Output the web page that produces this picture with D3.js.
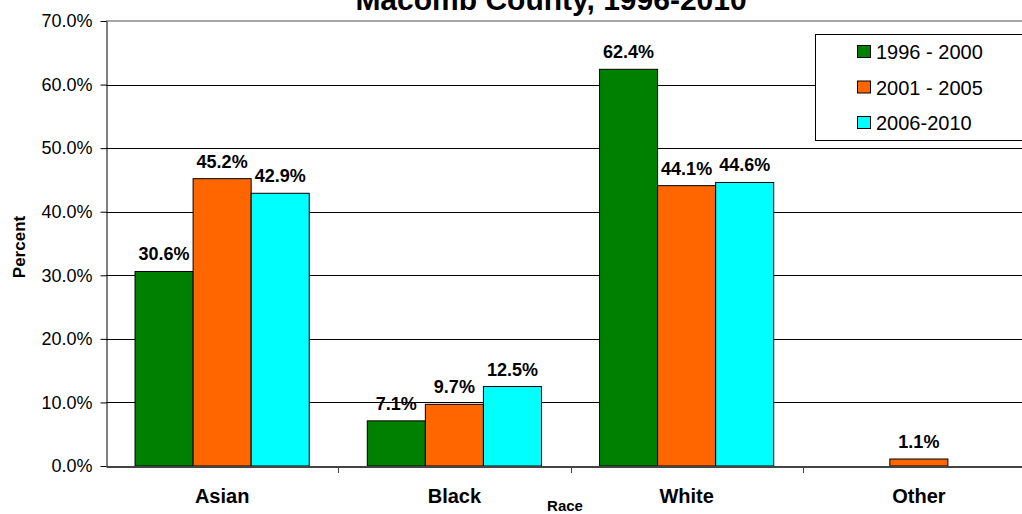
<!DOCTYPE html>
<html>
<head>
<meta charset="utf-8">
<script src="https://cdn.jsdelivr.net/npm/d3@7"></script>
<style>
  html, body { margin: 0; padding: 0; background: #fff; }
  svg { display: block; font-family: Arial, "Liberation Sans", sans-serif; }
</style>
</head>
<body>
<svg id="chart" width="1022" height="514"></svg>
<script>
// Race distribution by period
const categories = ["Asian", "Black", "White", "Other"];
const seriesNames = ["1996 - 2000", "2001 - 2005", "2006-2010"];
const seriesColors = ["#008000", "#FF6600", "#00FFFF"];
const values1996 = [30.6, 7.1, 62.4, null];
const values2001 = [45.2, 9.7, 44.1, 1.1];
const values2006 = [42.9, 12.5, 44.6, null];
const yTicks = [0, 10, 20, 30, 40, 50, 60, 70];

const series = [values1996, values2001, values2006];

const svg = d3.select("#chart");
const plotLeft = 106, plotRight = 1035, plotTop = 21, plotBottom = 466;

const x = d3.scaleBand().domain(categories).range([plotLeft, plotRight]).paddingInner(0).paddingOuter(0);
const xi = d3.scaleBand().domain(d3.range(seriesNames.length))
  .range([0, x.bandwidth()]).paddingOuter(0.5).paddingInner(0);
const y = d3.scaleLinear().domain([0, 70]).range([plotBottom, plotTop]);

// plot frame top line
svg.append("line").attr("x1", plotLeft).attr("x2", plotRight).attr("y1", plotTop).attr("y2", plotTop)
  .attr("stroke", "#888").attr("stroke-width", 1.5);

// gridlines
svg.append("g").selectAll("line").data(yTicks.filter(t => t > 0 && t < 70)).join("line")
  .attr("x1", plotLeft).attr("x2", plotRight)
  .attr("y1", d => Math.round(y(d)) + 0.5).attr("y2", d => Math.round(y(d)) + 0.5)
  .attr("stroke", "#000").attr("stroke-width", 1);

// y axis
const yAxis = d3.axisLeft(y).tickValues(yTicks).tickFormat(d => d.toFixed(1) + "%")
  .tickSizeInner(6).tickSizeOuter(0).tickPadding(8);
const gy = svg.append("g").attr("transform", `translate(${plotLeft + 0.5},0)`).call(yAxis);
gy.select(".domain").attr("stroke", "#000");
gy.selectAll(".tick line").attr("stroke", "#000");
gy.selectAll("text").attr("font-size", 18).attr("fill", "#000")
  .attr("font-family", "Arial, 'Liberation Sans', sans-serif");

// bars
const groups = svg.append("g").selectAll("g").data(series).join("g")
  .attr("fill", (d, i) => seriesColors[i]);
series.forEach((vals, si) => {
  const g = d3.select(groups.nodes()[si]);
  const data = categories.map((c, ci) => ({ c, v: vals[ci] })).filter(d => d.v != null);
  g.selectAll("rect").data(data).join("rect")
    .attr("x", d => x(d.c) + xi(si))
    .attr("width", xi.bandwidth())
    .attr("y", d => y(d.v))
    .attr("height", d => y(0) - y(d.v))
    .attr("stroke", "#000").attr("stroke-width", 1);
  g.selectAll("text").data(data).join("text")
    .attr("x", d => x(d.c) + xi(si) + xi.bandwidth() / 2)
    .attr("y", d => y(d.v) - 11)
    .attr("text-anchor", "middle")
    .attr("font-size", 18).attr("font-weight", "bold").attr("fill", "#000")
    .text(d => d.v.toFixed(1) + "%");
});

// x axis
const xAxis = d3.axisBottom(x).tickSize(0).tickFormat("");
const gx = svg.append("g").attr("transform", `translate(0,${plotBottom + 0.5})`).call(xAxis);
gx.select(".domain").attr("stroke", "#444").attr("stroke-width", 2);
svg.append("g").selectAll("line").data(categories.slice(1)).join("line")
  .attr("x1", d => Math.round(x(d)) + 0.5).attr("x2", d => Math.round(x(d)) + 0.5)
  .attr("y1", plotBottom).attr("y2", plotBottom + 7).attr("stroke", "#444");
svg.append("g").selectAll("text").data(categories).join("text")
  .attr("x", d => x(d) + x.bandwidth() / 2)
  .attr("y", 503)
  .attr("text-anchor", "middle").attr("font-size", 20).attr("font-weight", "bold")
  .text(d => d);

// axis titles
svg.append("text").attr("x", 565).attr("y", 511).attr("text-anchor", "middle")
  .attr("font-size", 15).attr("font-weight", "bold").text("Race");
svg.append("text").attr("transform", "translate(25,247) rotate(-90)")
  .attr("text-anchor", "middle").attr("font-size", 17).attr("font-weight", "bold").text("Percent");

// chart title
svg.append("text").attr("x", 551).attr("y", 10).attr("text-anchor", "middle")
  .attr("font-size", 30).attr("font-weight", "bold").text("Macomb County, 1996-2010");

// legend
const lg = svg.append("g");
lg.append("rect").attr("x", 815.5).attr("y", 34.5).attr("width", 220).attr("height", 106)
  .attr("fill", "#fff").attr("stroke", "#000");
seriesNames.forEach((name, i) => {
  const cy = 52 + i * 35.5;
  lg.append("rect").attr("x", 857.5).attr("y", cy - 6.5).attr("width", 13).attr("height", 12)
    .attr("fill", seriesColors[i]).attr("stroke", "#000");
  lg.append("text").attr("x", 876).attr("y", cy + 7).attr("font-size", 20).text(name);
});
</script>
</body>
</html>
